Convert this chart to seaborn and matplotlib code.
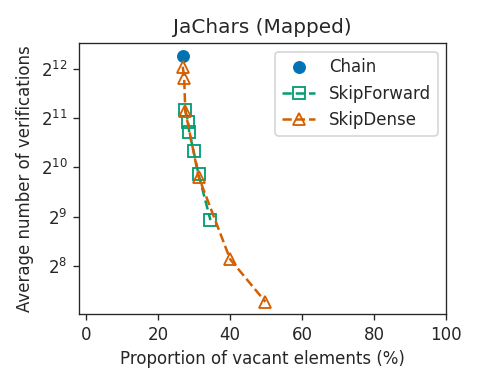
import numpy as np
import pandas as pd
import seaborn as sns
from matplotlib import pyplot as plt

sns.set_style("ticks")
plt.rcParams['font.family'] = ['DejaVu Sans']

# values
chain_x = [26.8]
chain_y = [4940]

fwd_x = [27.5, 28.3, 28.6, 29.8, 31.2, 34.5]
fwd_y = [2298, 1948, 1679, 1294, 928, 487]

dense_x = [26.8, 27.2, 27.5, 31.2, 40.0, 49.8]
dense_y = [4229, 3623, 2276, 898, 280, 154]

pal = sns.color_palette("colorblind")

fig, ax = plt.subplots(figsize=(4, 3.2), dpi=120)
fig.subplots_adjust(left=0.165, right=0.929, bottom=0.182, top=0.887)

sns.lineplot(x=chain_x, y=chain_y, ax=ax, color=pal[0], marker='o', markersize=7,
             linestyle='none', markeredgecolor=pal[0], label='Chain')
sns.lineplot(x=fwd_x, y=fwd_y, ax=ax, color=pal[2], marker='s', markersize=7,
             linestyle='--', markerfacecolor='none', markeredgecolor=pal[2],
             markeredgewidth=1.1, sort=False, label='SkipForward')
sns.lineplot(x=dense_x, y=dense_y, ax=ax, color=pal[3], marker='^', markersize=7,
             linestyle='--', markerfacecolor='none', markeredgecolor=pal[3],
             markeredgewidth=1.1, sort=False, label='SkipDense')

ax.set_yscale('log', base=2)
ax.set_xlim(-2, 100)
ax.set_title('JaChars (Mapped)')
ax.set_xlabel('Proportion of vacant elements (%)')
ax.set_ylabel('Average number of verifications')
ax.legend(loc='upper right')

fig.savefig('out.png', dpi=120)
